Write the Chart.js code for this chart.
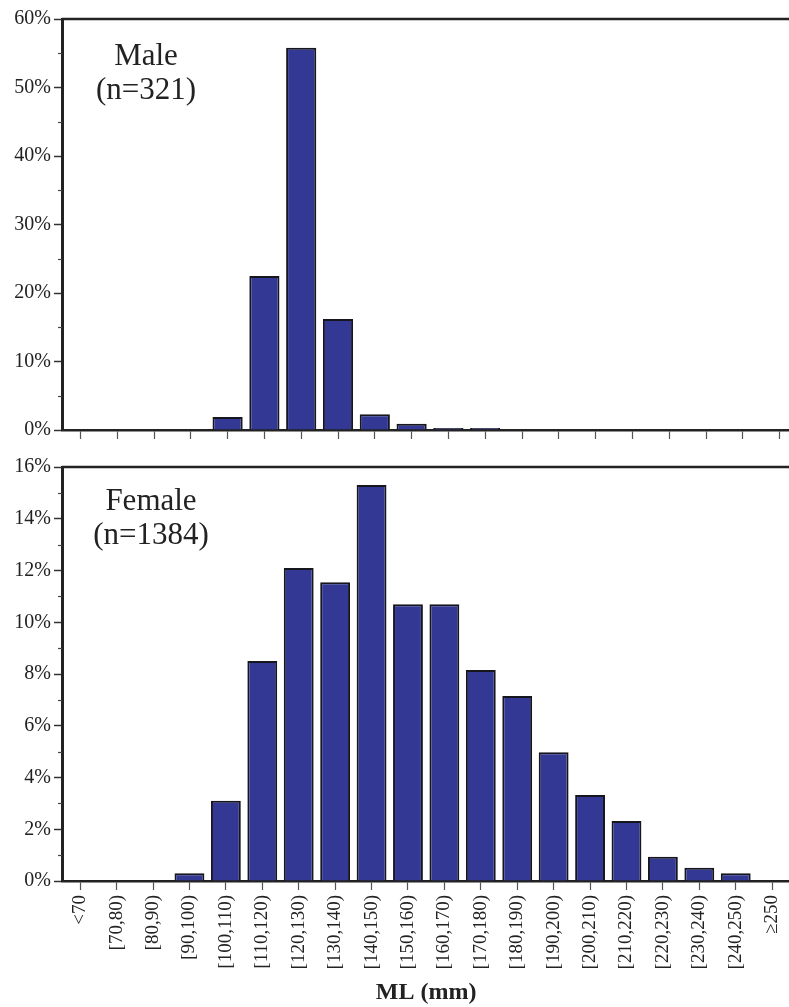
<!DOCTYPE html>
<html>
<head>
<meta charset="utf-8">
<script src="https://cdn.jsdelivr.net/npm/chart.js"></script>
<style>
  html, body { margin: 0; padding: 0; background: #fff; overflow: hidden; width: 789px; height: 1007px; }
  .panel { position: absolute; left: 0; width: 800px; }
  .note {
    position: absolute; width: 200px; text-align: center;
    font-family: "Liberation Serif", serif; font-size: 31px; line-height: 34px; color: #222;
  }
</style>
</head>
<body>
<div class="panel" style="top:0; height:445px;"><canvas id="maleChart"></canvas></div>
<div class="panel" style="top:445px; height:562px;"><canvas id="femaleChart"></canvas></div>
<div class="note" style="left:46px; top:38px;">Male<br>(n=321)</div>
<div class="note" style="left:51px; top:483px;">Female<br>(n=1384)</div>
<script>
// size classes of mantle length (mm)
const categories = ['<70', '[70,80)', '[80,90)', '[90,100)', '[100,110)', '[110,120)', '[120,130)',
  '[130,140)', '[140,150)', '[150,160)', '[160,170)', '[170,180)', '[180,190)', '[190,200)',
  '[200,210)', '[210,220)', '[220,230)', '[230,240)', '[240,250)', '\u2265250'];

// percentage of individuals per class
const maleShare = [0, 0, 0, 0, 1.9, 22.5, 55.8, 16.2, 2.3, 0.9, 0.3, 0.3, 0, 0, 0, 0, 0, 0, 0, 0];
const femaleShare = [0, 0, 0, 0.3, 3.1, 8.5, 12.1, 11.55, 15.3, 10.7, 10.7, 8.15, 7.15, 4.98,
  3.32, 2.32, 0.94, 0.51, 0.3, 0];

const maleTicks = { max: 60, step: 10 };
const femaleTicks = { max: 16, step: 2 };

const serif = 'Liberation Serif';
const ink = '#222';

// top frame line + short minor ticks halfway between the labelled ones
const framePlugin = {
  id: 'frame',
  afterDraw(chart, args, opts) {
    const { ctx, chartArea } = chart;
    const y = chart.scales.y;
    ctx.save();
    ctx.strokeStyle = ink;
    ctx.lineWidth = 2.5;
    ctx.beginPath();
    ctx.moveTo(chartArea.left, chartArea.top);
    ctx.lineTo(chart.width, chartArea.top);
    ctx.stroke();
    ctx.lineWidth = 1.2;
    ctx.strokeStyle = '#444';
    for (let v = opts.step / 2; v < opts.max; v += opts.step) {
      const py = Math.round(y.getPixelForValue(v)) + 0.5;
      ctx.beginPath();
      ctx.moveTo(chartArea.left - 4, py);
      ctx.lineTo(chartArea.left, py);
      ctx.stroke();
    }
    ctx.restore();
  }
};

function makeChart(id, values, ticks, opt) {
  return new Chart(document.getElementById(id), {
    type: 'bar',
    data: {
      labels: categories,
      datasets: [{
        data: values,
        backgroundColor: '#333895',
        borderColor: '#16161e',
        borderWidth: 2,
        barPercentage: 0.82,
        categoryPercentage: 1
      }]
    },
    plugins: [framePlugin],
    options: {
      responsive: true,
      maintainAspectRatio: false,
      animation: false,
      layout: { padding: { top: opt.padTop, right: 2, left: 0, bottom: 0 } },
      plugins: {
        legend: { display: false },
        tooltip: { enabled: false },
        frame: ticks
      },
      scales: {
        x: {
          grid: { offset: false, drawOnChartArea: false, drawTicks: true, tickLength: 9, tickColor: '#555', tickWidth: 1.2 },
          border: { display: true, color: ink, width: 2.5 },
          ticks: {
            display: opt.showLabels,
            autoSkip: false,
            minRotation: 90,
            maxRotation: 90,
            padding: 5,
            color: ink,
            font: { family: serif, size: 19 }
          },
          title: {
            display: opt.showLabels,
            text: 'ML (mm)',
            color: ink,
            padding: { top: 0, bottom: 0 },
            font: { family: serif, size: 24, weight: 'bold' }
          },
          afterFit(scale) { scale.height = opt.xHeight; }
        },
        y: {
          min: 0,
          max: ticks.max,
          grid: { drawOnChartArea: false, drawTicks: true, tickLength: 8, tickColor: '#333', tickWidth: 1.5 },
          border: { display: true, color: ink, width: 3 },
          ticks: {
            stepSize: ticks.step,
            padding: 3,
            color: ink,
            font: { family: serif, size: 20 },
            callback: (v) => v + '%'
          },
          afterFit(scale) { scale.width = 62; }
        }
      }
    }
  });
}

makeChart('maleChart', maleShare, maleTicks, { padTop: 19, xHeight: 13, showLabels: false });
makeChart('femaleChart', femaleShare, femaleTicks, { padTop: 22, xHeight: 126, showLabels: true });
</script>
</body>
</html>
